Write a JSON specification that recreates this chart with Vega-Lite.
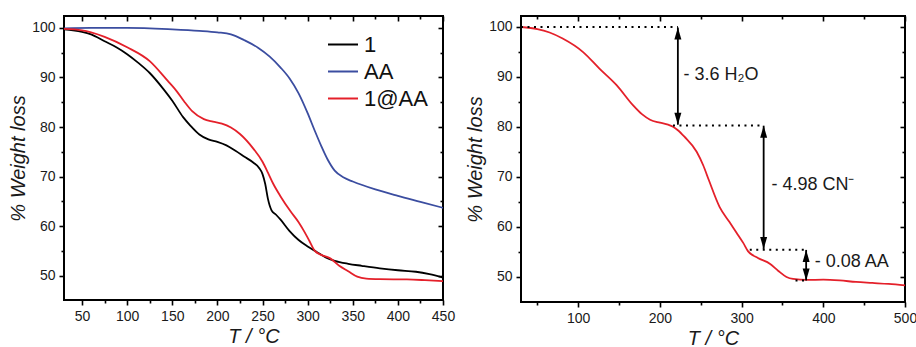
{
  "$schema": "https://vega.github.io/schema/vega-lite/v6.json",
  "padding": {"left": 7, "top": 14, "right": 4, "bottom": 0},
  "background": "white",
  "config": {
    "font": "Liberation Sans",
    "view": {"stroke": "#000000", "strokeWidth": 2},
    "axis": {
      "domain": false, "grid": false, "ticks": true, "tickColor": "#000000", "tickWidth": 1.6, "tickOpacity": 1,
      "labelFontSize": 14, "labelColor": "#1a1a1a", "labelPadding": 4, "labelFlush": false,
      "labelOverlap": false, "labelBound": false, "titleFontSize": 20, "titleFontWeight": "normal",
      "titleFontStyle": "italic", "titleColor": "#1a1a1a", "titlePadding": 3, "minExtent": 0
    }
  },
  "datasets": {
    "tga": [
      {"T":30,"W":99.7,"s":"1"},{"T":40,"W":99.5,"s":"1"},{"T":50,"W":99.2,"s":"1"},{"T":60,"W":98.7,"s":"1"},{"T":75,"W":97.3,"s":"1"},{"T":88,"W":96.1,"s":"1"},{"T":100,"W":94.7,"s":"1"},{"T":112,"W":93.0,"s":"1"},{"T":125,"W":90.9,"s":"1"},{"T":140,"W":87.7,"s":"1"},{"T":150,"W":85.3,"s":"1"},{"T":162,"W":82.0,"s":"1"},{"T":170,"W":80.3,"s":"1"},{"T":180,"W":78.5,"s":"1"},{"T":190,"W":77.5,"s":"1"},{"T":200,"W":77.0,"s":"1"},{"T":210,"W":76.3,"s":"1"},{"T":220,"W":75.2,"s":"1"},{"T":230,"W":74.0,"s":"1"},{"T":240,"W":72.8,"s":"1"},{"T":246,"W":71.8,"s":"1"},{"T":250,"W":70.5,"s":"1"},{"T":253,"W":68.5,"s":"1"},{"T":256,"W":65.5,"s":"1"},{"T":260,"W":63.2,"s":"1"},{"T":265,"W":62.3,"s":"1"},{"T":270,"W":61.3,"s":"1"},{"T":280,"W":59.0,"s":"1"},{"T":290,"W":57.2,"s":"1"},{"T":300,"W":55.9,"s":"1"},{"T":310,"W":54.8,"s":"1"},{"T":320,"W":53.7,"s":"1"},{"T":330,"W":53.0,"s":"1"},{"T":345,"W":52.4,"s":"1"},{"T":360,"W":52.0,"s":"1"},{"T":380,"W":51.5,"s":"1"},{"T":400,"W":51.1,"s":"1"},{"T":420,"W":50.8,"s":"1"},{"T":435,"W":50.3,"s":"1"},{"T":450,"W":49.6,"s":"1"},
      {"T":30,"W":99.9,"s":"AA"},{"T":60,"W":100,"s":"AA"},{"T":100,"W":100,"s":"AA"},{"T":150,"W":99.7,"s":"AA"},{"T":180,"W":99.4,"s":"AA"},{"T":200,"W":99.1,"s":"AA"},{"T":215,"W":98.7,"s":"AA"},{"T":230,"W":97.5,"s":"AA"},{"T":245,"W":96.0,"s":"AA"},{"T":258,"W":94.2,"s":"AA"},{"T":270,"W":92.0,"s":"AA"},{"T":280,"W":89.8,"s":"AA"},{"T":290,"W":86.8,"s":"AA"},{"T":300,"W":82.8,"s":"AA"},{"T":308,"W":79.2,"s":"AA"},{"T":315,"W":76.2,"s":"AA"},{"T":322,"W":73.5,"s":"AA"},{"T":330,"W":71.2,"s":"AA"},{"T":340,"W":69.8,"s":"AA"},{"T":350,"W":69.0,"s":"AA"},{"T":375,"W":67.4,"s":"AA"},{"T":400,"W":66.1,"s":"AA"},{"T":425,"W":64.9,"s":"AA"},{"T":450,"W":63.7,"s":"AA"},
      {"T":30,"W":99.8,"s":"1@AA"},{"T":50,"W":99.5,"s":"1@AA"},{"T":60,"W":99.1,"s":"1@AA"},{"T":75,"W":98.2,"s":"1@AA"},{"T":100,"W":96.1,"s":"1@AA"},{"T":125,"W":93.3,"s":"1@AA"},{"T":145,"W":89.3,"s":"1@AA"},{"T":155,"W":87.2,"s":"1@AA"},{"T":163,"W":85.2,"s":"1@AA"},{"T":172,"W":83.2,"s":"1@AA"},{"T":185,"W":81.6,"s":"1@AA"},{"T":195,"W":81.1,"s":"1@AA"},{"T":205,"W":80.7,"s":"1@AA"},{"T":215,"W":79.9,"s":"1@AA"},{"T":225,"W":78.6,"s":"1@AA"},{"T":240,"W":75.6,"s":"1@AA"},{"T":250,"W":73.0,"s":"1@AA"},{"T":256,"W":70.8,"s":"1@AA"},{"T":262,"W":68.5,"s":"1@AA"},{"T":270,"W":66.0,"s":"1@AA"},{"T":281,"W":63.0,"s":"1@AA"},{"T":290,"W":60.8,"s":"1@AA"},{"T":296,"W":59.0,"s":"1@AA"},{"T":302,"W":57.0,"s":"1@AA"},{"T":308,"W":55.0,"s":"1@AA"},{"T":315,"W":54.2,"s":"1@AA"},{"T":325,"W":53.5,"s":"1@AA"},{"T":335,"W":52.0,"s":"1@AA"},{"T":345,"W":50.9,"s":"1@AA"},{"T":355,"W":49.8,"s":"1@AA"},{"T":365,"W":49.4,"s":"1@AA"},{"T":380,"W":49.3,"s":"1@AA"},{"T":410,"W":49.25,"s":"1@AA"},{"T":430,"W":49.1,"s":"1@AA"},{"T":450,"W":48.9,"s":"1@AA"}
    ],
    "tga2": [
      {"T":30,"W":99.9},{"T":50,"W":99.5},{"T":65,"W":98.8},{"T":81,"W":97.6},{"T":106,"W":94.9},{"T":126,"W":91.6},{"T":147,"W":88.3},{"T":167,"W":84.3},{"T":178,"W":82.5},{"T":188,"W":81.4},{"T":200,"W":80.8},{"T":210,"W":80.4},{"T":216,"W":80.0},{"T":222,"W":79.3},{"T":230,"W":78.0},{"T":245,"W":75.0},{"T":253,"W":72.3},{"T":260,"W":69.3},{"T":273,"W":64.0},{"T":285,"W":61.0},{"T":294,"W":58.8},{"T":302,"W":56.8},{"T":308,"W":55.1},{"T":320,"W":53.8},{"T":335,"W":52.6},{"T":345,"W":51.2},{"T":355,"W":50.0},{"T":363,"W":49.6},{"T":380,"W":49.4},{"T":400,"W":49.45},{"T":420,"W":49.3},{"T":440,"W":49.0},{"T":460,"W":48.8},{"T":480,"W":48.6},{"T":500,"W":48.3}
    ],
    "hlines": [
      {"T":30,"T2":222,"W":99.9},
      {"T":216,"T2":327,"W":80.25},
      {"T":310,"T2":379,"W":55.45},
      {"T":366,"T2":381,"W":49.3}
    ],
    "arrows": [
      {"T":222,"W":99.8,"W2":80.4},
      {"T":327,"W":80.2,"W2":55.6},
      {"T":379,"W":55.4,"W2":49.3}
    ],
    "heads": [
      {"T":222,"W":99.8,"d":"up"},{"T":222,"W":80.4,"d":"down"},
      {"T":327,"W":80.2,"d":"up"},{"T":327,"W":55.6,"d":"down"},
      {"T":379,"W":55.4,"d":"up"},{"T":379,"W":49.3,"d":"down"}
    ],
    "notes": [
      {"T":229,"W":90.3,"txt":"- 3.6 H₂O"},
      {"T":336.5,"W":68.3,"txt":"- 4.98 CN⁻"},
      {"T":389.5,"W":52.9,"txt":"- 0.08 AA"}
    ]
  },
  "spacing": 8,
  "resolve": {"legend": {"color": "independent", "shape": "independent"}},
  "hconcat": [
    {
      "width": 379, "height": 284,
      "layer": [
        {
          "data": {"name": "tga"},
          "mark": {"type": "line", "strokeWidth": 1.8, "clip": true, "interpolate": "monotone"},
          "encoding": {
            "x": {"field": "T", "type": "quantitative", "scale": {"domain": [30, 450], "nice": false, "zero": false},
              "axis": {"orient": "bottom", "values": [50,100,150,200,250,300,350,400,450], "tickSize": 5, "title": "T / °C"}},
            "y": {"field": "W", "type": "quantitative", "scale": {"domain": [45.1, 102.4], "nice": false, "zero": false},
              "axis": {"orient": "left", "values": [50,60,70,80,90,100], "tickSize": 5, "title": "% Weight loss"}},
            "color": {"field": "s", "type": "nominal",
              "scale": {"domain": ["1", "AA", "1@AA"], "range": ["#000000", "#3B4DA0", "#E4202A"]},
              "legend": {"orient": "top-right", "title": null, "symbolType": "stroke", "symbolSize": 900,
                "symbolStrokeWidth": 2, "labelFontSize": 22, "labelColor": "#111111", "rowPadding": 0,
                "clipHeight": 27, "offset": 15, "padding": 0, "labelOffset": 5}}
          }
        },
        {
          "data": {"name": "tga"},
          "mark": {"type": "line", "opacity": 0},
          "encoding": {
            "x": {"field": "T", "type": "quantitative", "scale": {"domain": [30, 450], "nice": false, "zero": false},
              "axis": {"orient": "bottom", "values": [75,125,175,225,275,325,375,425], "labels": false, "title": null, "tickSize": 3}},
            "y": {"field": "W", "type": "quantitative", "scale": {"domain": [45.1, 102.4], "nice": false, "zero": false},
              "axis": {"orient": "left", "values": [55,65,75,85,95], "labels": false, "title": null, "tickSize": 3}}
          }
        },
        {
          "data": {"name": "tga"},
          "mark": {"type": "line", "opacity": 0},
          "encoding": {
            "x": {"field": "T", "type": "quantitative", "scale": {"domain": [30, 450], "nice": false, "zero": false},
              "axis": {"orient": "top", "values": [50,100,150,200,250,300,350,400,450], "labels": false, "title": null, "tickSize": -5}},
            "y": {"field": "W", "type": "quantitative", "scale": {"domain": [45.1, 102.4], "nice": false, "zero": false},
              "axis": {"orient": "right", "values": [50,60,70,80,90,100], "labels": false, "title": null, "tickSize": -5}}
          }
        },
        {
          "data": {"name": "tga"},
          "mark": {"type": "line", "opacity": 0},
          "encoding": {
            "x": {"field": "T", "type": "quantitative", "scale": {"domain": [30, 450], "nice": false, "zero": false},
              "axis": {"orient": "top", "values": [75,125,175,225,275,325,375,425], "labels": false, "title": null, "tickSize": -3}},
            "y": {"field": "W", "type": "quantitative", "scale": {"domain": [45.1, 102.4], "nice": false, "zero": false},
              "axis": {"orient": "right", "values": [55,65,75,85,95], "labels": false, "title": null, "tickSize": -3}}
          }
        }
      ],
      "resolve": {"axis": {"x": "independent", "y": "independent"}}
    },
    {
      "width": 384, "height": 286,
      "layer": [
        {
          "data": {"name": "tga2"},
          "mark": {"type": "line", "strokeWidth": 1.8, "color": "#E4202A", "clip": true, "interpolate": "monotone"},
          "encoding": {
            "x": {"field": "T", "type": "quantitative", "scale": {"domain": [30, 500], "nice": false, "zero": false},
              "axis": {"orient": "bottom", "values": [100,200,300,400,500], "tickSize": 5, "title": "T / °C"}},
            "y": {"field": "W", "type": "quantitative", "scale": {"domain": [45, 102.1], "nice": false, "zero": false},
              "axis": {"orient": "left", "values": [50,60,70,80,90,100], "tickSize": 5, "title": "% Weight loss"}}
          }
        },
        {
          "data": {"name": "tga2"},
          "mark": {"type": "line", "opacity": 0},
          "encoding": {
            "x": {"field": "T", "type": "quantitative", "scale": {"domain": [30, 500], "nice": false, "zero": false},
              "axis": {"orient": "bottom", "values": [50,150,250,350,450], "labels": false, "title": null, "tickSize": 3}},
            "y": {"field": "W", "type": "quantitative", "scale": {"domain": [45, 102.1], "nice": false, "zero": false},
              "axis": {"orient": "left", "values": [55,65,75,85,95], "labels": false, "title": null, "tickSize": 3}}
          }
        },
        {
          "data": {"name": "tga2"},
          "mark": {"type": "line", "opacity": 0},
          "encoding": {
            "x": {"field": "T", "type": "quantitative", "scale": {"domain": [30, 500], "nice": false, "zero": false},
              "axis": {"orient": "top", "values": [100,200,300,400,500], "labels": false, "title": null, "tickSize": -5}},
            "y": {"field": "W", "type": "quantitative", "scale": {"domain": [45, 102.1], "nice": false, "zero": false},
              "axis": {"orient": "right", "values": [50,60,70,80,90,100], "labels": false, "title": null, "tickSize": -5}}
          }
        },
        {
          "data": {"name": "tga2"},
          "mark": {"type": "line", "opacity": 0},
          "encoding": {
            "x": {"field": "T", "type": "quantitative", "scale": {"domain": [30, 500], "nice": false, "zero": false},
              "axis": {"orient": "top", "values": [50,150,250,350,450], "labels": false, "title": null, "tickSize": -3}},
            "y": {"field": "W", "type": "quantitative", "scale": {"domain": [45, 102.1], "nice": false, "zero": false},
              "axis": {"orient": "right", "values": [55,65,75,85,95], "labels": false, "title": null, "tickSize": -3}}
          }
        },
        {
          "data": {"name": "hlines"},
          "mark": {"type": "rule", "color": "#000000", "strokeWidth": 2, "strokeDash": [2, 4.5]},
          "encoding": {
            "x": {"field": "T", "type": "quantitative", "scale": {"domain": [30, 500], "nice": false, "zero": false}, "axis": null},
            "x2": {"field": "T2"},
            "y": {"field": "W", "type": "quantitative", "scale": {"domain": [45, 102.1], "nice": false, "zero": false}, "axis": null}
          }
        },
        {
          "data": {"name": "arrows"},
          "mark": {"type": "rule", "color": "#000000", "strokeWidth": 1.8},
          "encoding": {
            "x": {"field": "T", "type": "quantitative", "scale": {"domain": [30, 500], "nice": false, "zero": false}, "axis": null},
            "y": {"field": "W", "type": "quantitative", "scale": {"domain": [45, 102.1], "nice": false, "zero": false}, "axis": null},
            "y2": {"field": "W2"}
          }
        },
        {
          "data": {"name": "heads"},
          "mark": {"type": "point", "filled": true, "size": 400, "color": "#000000", "opacity": 1},
          "encoding": {
            "x": {"field": "T", "type": "quantitative", "scale": {"domain": [30, 500], "nice": false, "zero": false}, "axis": null},
            "y": {"field": "W", "type": "quantitative", "scale": {"domain": [45, 102.1], "nice": false, "zero": false}, "axis": null},
            "shape": {"field": "d", "type": "nominal", "legend": null,
              "scale": {"domain": ["up", "down"], "range": ["M0,0L-0.35,1.2L0.35,1.2Z", "M0,0L-0.35,-1.2L0.35,-1.2Z"]}}
          }
        },
        {
          "data": {"name": "notes"},
          "mark": {"type": "text", "align": "left", "baseline": "middle", "fontSize": 18, "color": "#1a1a1a"},
          "encoding": {
            "x": {"field": "T", "type": "quantitative", "scale": {"domain": [30, 500], "nice": false, "zero": false}, "axis": null},
            "y": {"field": "W", "type": "quantitative", "scale": {"domain": [45, 102.1], "nice": false, "zero": false}, "axis": null},
            "text": {"field": "txt", "type": "nominal"}
          }
        }
      ],
      "resolve": {"axis": {"x": "independent", "y": "independent"}}
    }
  ]
}
